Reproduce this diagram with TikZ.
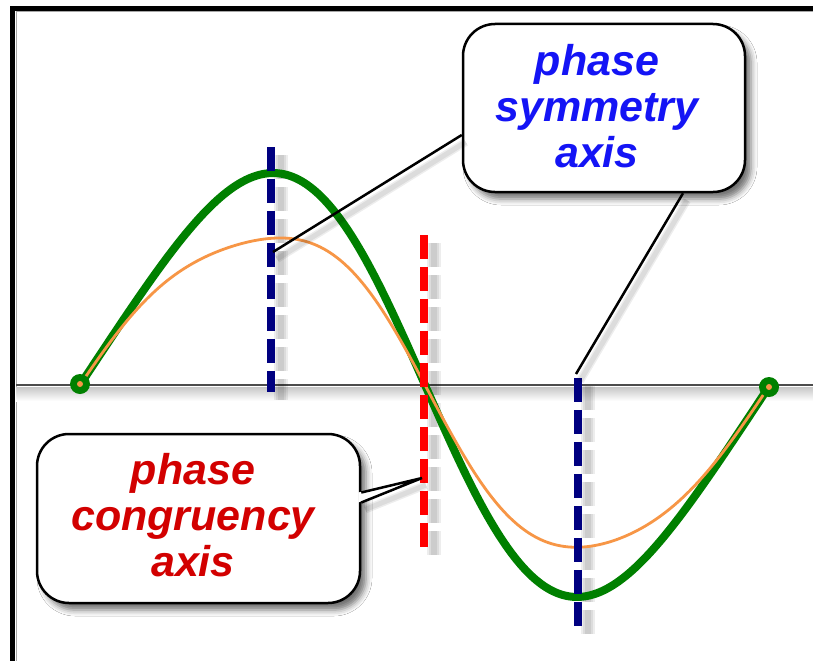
\documentclass[tikz,border=0pt]{standalone}
\usepackage{fontspec}
\setmainfont{Liberation Sans}
\usetikzlibrary{shadows.blur,calc}
\definecolor{navyline}{RGB}{0,0,128}
\definecolor{redline}{RGB}{255,0,0}
\definecolor{greencurve}{RGB}{0,128,0}
\definecolor{orangecurve}{RGB}{247,150,70}
\definecolor{bluetext}{RGB}{20,20,245}
\definecolor{redtext}{RGB}{210,0,0}
\begin{document}
\begin{tikzpicture}[x=1pt,y=-1pt,
  callout/.style={draw=black,line width=2.5pt,fill=white,rounded corners=32pt,inner sep=0pt,
    blur shadow={shadow xshift=6pt,shadow yshift=-7pt,shadow blur radius=6pt,shadow opacity=55}},
  calltext/.style={font=\fontsize{43}{46}\selectfont\bfseries\itshape,align=center,inner sep=0pt},
  dashline/.style={line width=8pt,dash pattern=on 24pt off 8pt},
  dashshadow/.style={dash pattern=on 24pt off 8pt,black,opacity=0.07},
  connector/.style={line width=2.5pt,black},
  connshadow/.style={black,opacity=0.07},
  enddot/.style={circle,fill=greencurve,minimum size=20pt,inner sep=0pt},
  innerdot/.style={circle,fill=orangecurve,minimum size=6pt,inner sep=0pt}]
\useasboundingbox (0,0) rectangle (813,661);
\fill[white] (0,0) rectangle (813,661);
% frame
\fill[black] (10,6) rectangle (813,11);
\fill[black] (10,6) rectangle (15,661);
\draw[black!35,line width=1pt] (16,12) -- (813,12);
\draw[black!35,line width=1pt] (16,12) -- (16,661);
% axis
\shade[top color=black!22,bottom color=white] (16,387) rectangle (813,401);
\draw[black!70,line width=2.5pt] (16,385) -- (813,385);
% coordinates for axes
\coordinate (s1top) at (271,147);
\coordinate (s1bot) at (271,392);
\coordinate (ctop) at (424,235);
\coordinate (cbot) at (424,552);
\coordinate (s2top) at (578,378);
\coordinate (s2bot) at (578,628);
% dashed shadows (soft)
\foreach \w in {14,10,6} {
  \draw[dashshadow,line width=\w pt] ($(s1top)+(10,8)$) -- ($(s1bot)+(10,8)$);
  \draw[dashshadow,line width=\w pt] ($(ctop)+(10,8)$) -- ($(cbot)+(10,8)$);
  \draw[dashshadow,line width=\w pt] ($(s2top)+(10,8)$) -- ($(s2bot)+(10,8)$);
}
% curves
\draw[greencurve,line width=8pt,line cap=round] plot[domain=80:769,samples=140,smooth]
  (\x,{385-208*(sin((\x-80)/345*180)-0.1*sin((\x-80)/345*360))});
\draw[orangecurve,line width=2.8pt,line cap=round] plot[domain=80:769,samples=140,smooth]
  (\x,{385-160*(sin((\x-80)/345*180)-0.07*sin((\x-80)/345*360)+0.05*sin((\x-80)/345*540))+8*(sin((\x-80)/345*180))^2});
\node[enddot] (d1) at (80,384) {};
\node[enddot] (d2) at (769,387) {};
\node[innerdot] (o1) at (80,384) {};
\node[innerdot] (o2) at (769,387) {};
% dashed axes
\draw[dashline,navyline] (s1top) -- (s1bot);
\draw[dashline,redline] (ctop) -- (cbot);
\draw[dashline,navyline] (s2top) -- (s2bot);
% callout boxes
\node[callout,minimum width=282pt,minimum height=168pt] (sym) at (604,108) {};
\node[calltext,text=bluetext] (symtext) at (597,106) {phase\\symmetry\\axis};
\node[callout,minimum width=323pt,minimum height=169pt] (cong) at (198.5,518.5) {};
\node[calltext,text=redtext] (congtext) at (193,515) {phase\\congruency\\axis};
% connectors
\coordinate (p1) at (273,252);
\coordinate (p2) at (576,374);
\coordinate (p3) at (422,478);
\coordinate (sa) at ($(sym.west)+(0,27)$);
\coordinate (sb) at ($(sym.south)+(79,0)$);
\coordinate (ca) at ($(cong.east)+(0,-26)$);
\coordinate (cb) at ($(cong.east)+(0,-16)$);
\foreach \w in {8,5} {
  \draw[connshadow,line width=\w pt] ($(sa)+(4,7)$) -- ($(p1)+(4,7)$);
  \draw[connshadow,line width=\w pt] ($(sb)+(4,7)$) -- ($(p2)+(4,7)$);
  \draw[connshadow,line width=\w pt] ($(cb)+(4,7)$) -- ($(p3)+(4,7)$);
}
\draw[connector] (sa) -- (p1);
\draw[connector] (sb) -- (p2);
\fill[white] ($(ca)+(-3,0)$) -- (p3) -- ($(cb)+(-3,0)$) -- cycle;
\draw[connector,line join=miter] (ca) -- (p3) -- (cb);
\end{tikzpicture}
\end{document}
